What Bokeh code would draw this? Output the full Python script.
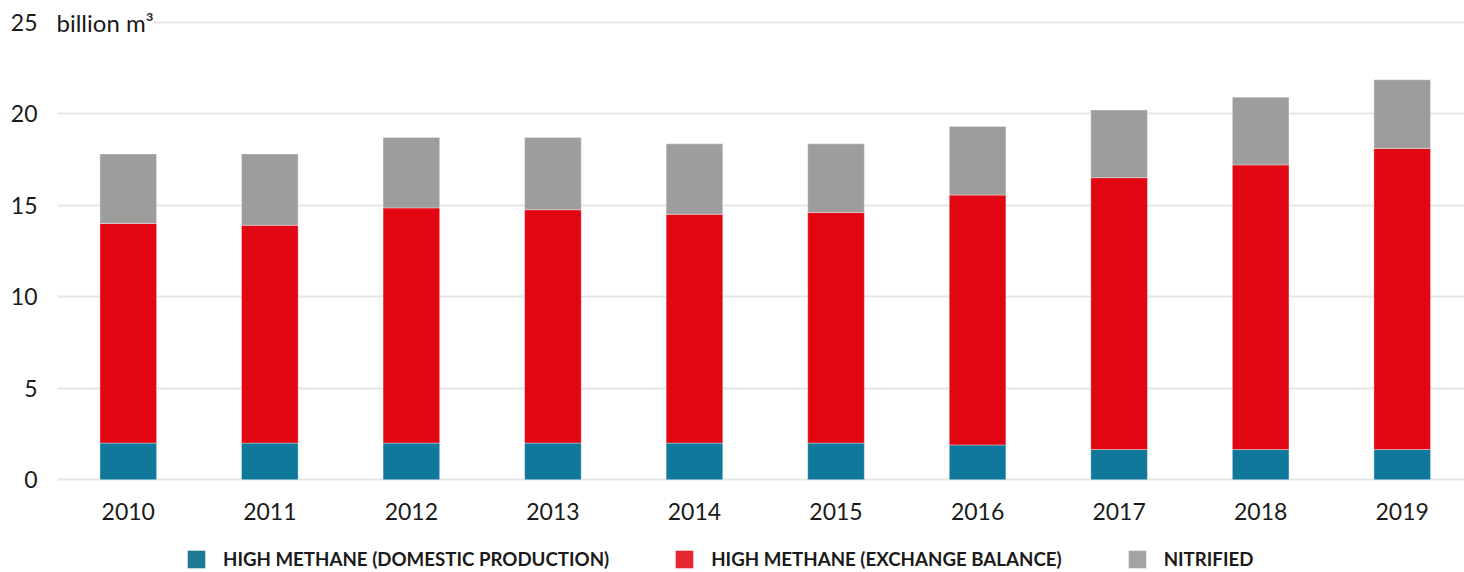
from bokeh.plotting import figure
from bokeh.layouts import column
from bokeh.models import ColumnDataSource, Range1d, FixedTicker, Legend, LegendItem, Label
from bokeh.embed import file_html
from bokeh.resources import INLINE

years = [2010, 2011, 2012, 2013, 2014, 2015, 2016, 2017, 2018, 2019]
domestic = [2.0, 2.0, 2.0, 2.0, 2.0, 2.0, 1.9, 1.65, 1.65, 1.65]
exchange = [12.0, 11.9, 12.85, 12.75, 12.5, 12.6, 13.65, 14.85, 15.55, 16.45]
nitrified = [3.8, 3.9, 3.85, 3.95, 3.85, 3.75, 3.75, 3.7, 3.7, 3.75]
series = ["domestic", "exchange", "nitrified"]
labels = ["HIGH METHANE (DOMESTIC PRODUCTION)", "HIGH METHANE (EXCHANGE BALANCE)", "NITRIFIED"]
colors = ["#10789a", "#e20613", "#9d9d9c"]
legend_colors = ["#1e7a94", "#e8262f", "#a3a3a3"]
y_ticks = [0, 5, 10, 15, 20, 25]
unit = "billion m\u00b3"

FONT = "Lato"
TXT = "#1a1a1a"

src = ColumnDataSource(dict(year=years, domestic=domestic, exchange=exchange, nitrified=nitrified))

p = figure(frame_width=1407, frame_height=474, output_backend="svg", toolbar_location=None,
           x_range=Range1d(2009.5, 2019.44), y_range=Range1d(-0.1, 25.8),
           min_border_left=57, min_border_right=0, min_border_top=7, min_border_bottom=45)
p.outline_line_color = None
p.background_fill_color = "white"

p.vbar_stack(series, x="year", width=0.4, source=src, color=colors,
             line_color="white", line_alpha=0.35, line_width=1)

p.xaxis.ticker = FixedTicker(ticks=years)
p.yaxis.ticker = FixedTicker(ticks=y_ticks)
for ax in (p.xaxis, p.yaxis):
    ax.axis_line_color = None
    ax.major_tick_line_color = None
    ax.minor_tick_line_color = None
    ax.major_label_text_font = FONT
    ax.major_label_text_font_size = "23px"
    ax.major_label_text_color = TXT
p.yaxis.major_label_standoff = 14
p.xaxis.major_label_standoff = 15
p.xgrid.grid_line_color = None
p.ygrid.grid_line_color = "#e6e6e6"
p.ygrid.grid_line_width = 2
p.ygrid.ticker = FixedTicker(ticks=y_ticks)

p.add_layout(Label(x=2009.5, y=25, text=unit, x_offset=-1, y_offset=0,
                   text_font=FONT, text_font_size="24px", text_color=TXT,
                   text_baseline="middle", background_fill_color="white",
                   border_line_color=None))

# legend strip (its frame is aligned with the main frame by the column layout)
lg = figure(frame_width=1407, height=46, output_backend="svg", toolbar_location=None,
            x_range=Range1d(0, 1407), y_range=Range1d(0, 46),
            min_border_left=57, min_border_right=0, min_border_top=0, min_border_bottom=0)
lg.axis.visible = False
lg.grid.grid_line_color = None
lg.outline_line_color = None
dummy_src = ColumnDataSource(dict(x=[-1000], top=[0]))
dummies = [lg.vbar(x="x", top="top", width=1, source=dummy_src, fill_color=c, line_color=None)
           for c in legend_colors]
items = [LegendItem(label=l, renderers=[r]) for l, r in zip(labels, dummies)]
legend = Legend(items=items, orientation="horizontal", location=(128, 2),
                glyph_width=22, glyph_height=22, label_standoff=16, spacing=64,
                label_text_font=FONT, label_text_font_size="18.7px", label_text_font_style="bold",
                label_text_color=TXT, border_line_color=None, padding=0, margin=0,
                background_fill_alpha=0)
lg.add_layout(legend, "center")

layout = column(p, lg)
open("out.html", "w").write(file_html(layout, INLINE))
